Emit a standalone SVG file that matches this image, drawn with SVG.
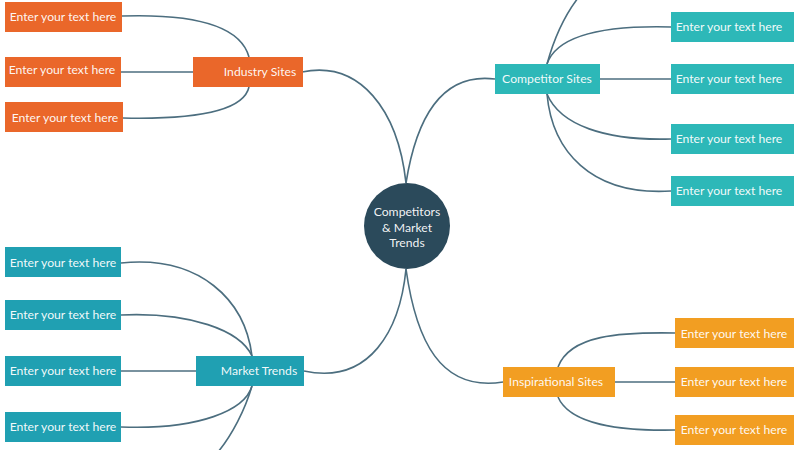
<svg xmlns="http://www.w3.org/2000/svg" width="800" height="450" viewBox="0 0 800 450">
<style>
.c{fill:none;stroke:#4C6E7F;stroke-width:1.6}
.t{font-family:Lato,"Open Sans","Liberation Sans",sans-serif;font-size:12.2px;fill:#FFFFFF;fill-opacity:0.95;text-anchor:middle;dominant-baseline:central}
.ind{fill:#EA672A}
.comp{fill:#2DB8B8}
.mkt{fill:#20A0B2}
.insp{fill:#F29E22}
</style>
<rect width="800" height="450" fill="#FFFFFF"/>
<g id="connectors">
<path class="c" d="M302,72 C360,60 398,110 406,183"/>
<path class="c" d="M406,183 C416,120 440,72 495,79"/>
<path class="c" d="M304,371 C370,385 400,330 406,269"/>
<path class="c" d="M406,269 C416,340 440,392 503,382"/>
<path class="c" d="M122,16 C215,13 243,35 249,57"/>
<path class="c" d="M121,72 L193,72"/>
<path class="c" d="M123,118 C215,120 245,105 249,87"/>
<path class="c" d="M547,64 C555,35 565,15 578,-2"/>
<path class="c" d="M547,64 C556,38 595,25 671,27"/>
<path class="c" d="M600,79 L671,79"/>
<path class="c" d="M547,94 C560,125 605,141 671,139"/>
<path class="c" d="M547,94 C552,150 590,196 671,191"/>
<path class="c" d="M121,263 C200,255 245,300 252,356"/>
<path class="c" d="M121,315 C190,312 240,330 252,356"/>
<path class="c" d="M121,371 L196,371"/>
<path class="c" d="M121,427 C200,430 245,410 252,386"/>
<path class="c" d="M252,386 C245,410 232,435 218,452"/>
<path class="c" d="M558,367 C570,335 620,332 675,333"/>
<path class="c" d="M615,382 L675,382"/>
<path class="c" d="M558,397 C570,425 620,431 675,430"/>
</g>
<g id="center">
<circle cx="407" cy="226" r="43" fill="#2B4A5B"/>
<text class="t" x="407" y="211.5">Competitors</text>
<text class="t" x="407" y="227">&amp; Market</text>
<text class="t" x="407" y="242.5">Trends</text>
</g>
<g id="industry-sites">
<rect class="ind" x="193" y="57" width="110" height="30"/>
<text class="t" x="260" y="71.5">Industry Sites</text>
</g>
<g id="industry-1"><rect class="ind" x="5" y="2" width="117" height="30"/><text class="t" x="63" y="16.5">Enter your text here</text></g>
<g id="industry-2"><rect class="ind" x="5" y="57" width="116" height="30"/><text class="t" x="62" y="69.5">Enter your text here</text></g>
<g id="industry-3"><rect class="ind" x="5" y="102" width="118" height="30"/><text class="t" x="65" y="117.5">Enter your text here</text></g>
<g id="competitor-sites">
<rect class="comp" x="495" y="64" width="105" height="30"/>
<text class="t" x="547" y="78.5">Competitor Sites</text>
</g>
<g id="competitor-1"><rect class="comp" x="671" y="12" width="123" height="30"/><text class="t" x="729" y="26.5">Enter your text here</text></g>
<g id="competitor-2"><rect class="comp" x="671" y="64" width="123" height="30"/><text class="t" x="729" y="78.5">Enter your text here</text></g>
<g id="competitor-3"><rect class="comp" x="671" y="124" width="123" height="30"/><text class="t" x="729" y="138.5">Enter your text here</text></g>
<g id="competitor-4"><rect class="comp" x="671" y="176" width="123" height="30"/><text class="t" x="729" y="190.5">Enter your text here</text></g>
<g id="market-trends">
<rect class="mkt" x="196" y="356" width="108" height="30"/>
<text class="t" x="259" y="370.5">Market Trends</text>
</g>
<g id="market-1"><rect class="mkt" x="5" y="247" width="116" height="30"/><text class="t" x="63" y="262.5">Enter your text here</text></g>
<g id="market-2"><rect class="mkt" x="5" y="300" width="116" height="30"/><text class="t" x="63" y="314.5">Enter your text here</text></g>
<g id="market-3"><rect class="mkt" x="5" y="356" width="116" height="30"/><text class="t" x="63" y="370.5">Enter your text here</text></g>
<g id="market-4"><rect class="mkt" x="5" y="412" width="116" height="30"/><text class="t" x="63" y="426.5">Enter your text here</text></g>
<g id="inspirational-sites">
<rect class="insp" x="503" y="367" width="112" height="30"/>
<text class="t" x="556" y="381.5">Inspirational Sites</text>
</g>
<g id="inspirational-1"><rect class="insp" x="675" y="318" width="119" height="30"/><text class="t" x="734" y="333.5">Enter your text here</text></g>
<g id="inspirational-2"><rect class="insp" x="675" y="367" width="119" height="30"/><text class="t" x="734" y="381.5">Enter your text here</text></g>
<g id="inspirational-3"><rect class="insp" x="675" y="415" width="119" height="30"/><text class="t" x="734" y="429.5">Enter your text here</text></g>
</svg>
